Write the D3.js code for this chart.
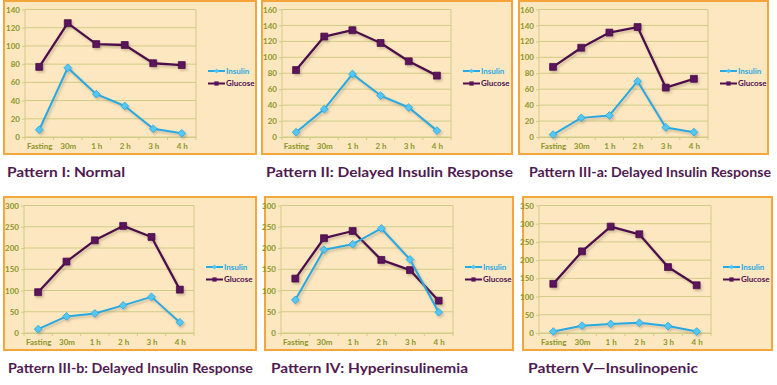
<!DOCTYPE html>
<html>
<head>
<meta charset="utf-8">
<script src="https://cdn.jsdelivr.net/npm/d3@7"></script>
<style>
  body { margin: 0; background: #fff; }
  svg { display: block; }
</style>
</head>
<body>
<div id="chart"></div>
<script>
const categories = ['Fasting', '30m', '1 h', '2 h', '3 h', '4 h'];
const seriesNames = ['Insulin', 'Glucose'];

const titles = [
  'Pattern I: Normal',
  'Pattern II: Delayed Insulin Response',
  'Pattern III-a: Delayed Insulin Response',
  'Pattern III-b: Delayed Insulin Response',
  'Pattern IV: Hyperinsulinemia',
  'Pattern V\u2014Insulinopenic'
];

const yMax = [140, 160, 160, 300, 300, 350];
const yStep = [20, 20, 20, 50, 50, 50];

const insulin = [
  [8, 76, 47, 34, 9, 4],
  [6, 35, 79, 52, 37, 8],
  [3, 24, 27, 70, 12, 6],
  [9, 39, 46, 65, 85, 25],
  [78, 196, 209, 246, 173, 49],
  [4, 20, 25, 28, 19, 4]
];

const glucose = [
  [77, 125, 102, 101, 81, 79],
  [84, 126, 134, 118, 95, 77],
  [88, 112, 131, 138, 62, 73],
  [96, 168, 218, 252, 226, 102],
  [128, 223, 240, 172, 148, 76],
  [135, 224, 292, 271, 181, 131]
];

// frame and plot placement of each panel
const layout = [
  { fx: 4,   fy: 1,   fw: 252, fh: 153, px0: 25,  px1: 196, tx: 7,   ty: 177, tl: 118 },
  { fx: 262, fy: 1,   fw: 250, fh: 153, px0: 282, px1: 451, tx: 266, ty: 177, tl: 247 },
  { fx: 519, fy: 1,   fw: 249, fh: 153, px0: 539, px1: 708, tx: 529, ty: 177, tl: 242 },
  { fx: 4,   fy: 197, fw: 252, fh: 153, px0: 24,  px1: 194, tx: 8,   ty: 373, tl: 245 },
  { fx: 265, fy: 197, fw: 248, fh: 153, px0: 281, px1: 453, tx: 271, ty: 373, tl: 197 },
  { fx: 523, fy: 197, fw: 249, fh: 153, px0: 539, px1: 711, tx: 528, ty: 373, tl: 170 }
];

const colors = { Insulin: '#27a9e1', Glucose: '#4e0e4e' };
const markFill = { Insulin: '#57c6f2', Glucose: '#5a125a' };
const gridColor = '#cfcc85';
const tickColor = '#8a9628';

const svg = d3.select('#chart').append('svg')
  .attr('width', 777)
  .attr('height', 385);

const defs = svg.append('defs');
const shadow = defs.append('filter').attr('id', 'shadow')
  .attr('x', '-20%').attr('y', '-20%').attr('width', '140%').attr('height', '140%');
shadow.append('feDropShadow')
  .attr('dx', 1.5).attr('dy', 2)
  .attr('stdDeviation', 1.2)
  .attr('flood-color', '#7a6a50')
  .attr('flood-opacity', 0.35);

titles.forEach((title, i) => {
  const L = layout[i];
  const g = svg.append('g');

  g.append('rect')
    .attr('x', L.fx).attr('y', L.fy)
    .attr('width', L.fw).attr('height', L.fh)
    .attr('fill', '#fde7c0')
    .attr('stroke', '#f4a63c')
    .attr('stroke-width', 2);

  const top = L.fy + 8.5;
  const bottom = L.fy + 136;

  const x = d3.scalePoint()
    .domain(categories)
    .range([L.px0, L.px1])
    .padding(0.5);

  const y = d3.scaleLinear()
    .domain([0, yMax[i]])
    .range([bottom, top]);

  const ticks = d3.range(0, yMax[i] + 1, yStep[i]);

  // gridlines
  g.append('g')
    .selectAll('line')
    .data(ticks)
    .enter().append('line')
    .attr('x1', L.px0).attr('x2', L.px1)
    .attr('y1', d => y(d)).attr('y2', d => y(d))
    .attr('stroke', gridColor)
    .attr('stroke-width', 1);

  // plot edges
  g.append('line')
    .attr('x1', L.px0).attr('x2', L.px0)
    .attr('y1', top).attr('y2', bottom)
    .attr('stroke', gridColor);
  g.append('line')
    .attr('x1', L.px1).attr('x2', L.px1)
    .attr('y1', top).attr('y2', bottom)
    .attr('stroke', gridColor);

  // y axis
  const yAxis = g.append('g')
    .attr('transform', `translate(${L.px0},0)`)
    .call(d3.axisLeft(y).tickValues(ticks).tickSize(3).tickPadding(2));
  yAxis.select('.domain').remove();
  yAxis.selectAll('line').attr('stroke', gridColor);
  yAxis.selectAll('text')
    .attr('fill', tickColor)
    .style('font-family', 'Lato, sans-serif')
    .style('font-weight', 'bold')
    .style('font-size', '8px');

  // x axis
  const step = x.step();
  const xAxis = g.append('g')
    .attr('transform', `translate(0,${bottom})`)
    .call(d3.axisBottom(x).tickSize(0).tickPadding(6));
  xAxis.select('.domain').attr('stroke', gridColor);
  xAxis.selectAll('text')
    .attr('fill', tickColor)
    .style('font-family', 'Lato, sans-serif')
    .style('font-weight', 'bold')
    .style('font-size', '8px');
  xAxis.selectAll('.sep')
    .data(d3.range(categories.length + 1))
    .enter().append('line')
    .attr('class', 'sep')
    .attr('x1', k => L.px0 + k * step).attr('x2', k => L.px0 + k * step)
    .attr('y1', 0).attr('y2', 3)
    .attr('stroke', gridColor);

  // series
  const data = { Insulin: insulin[i], Glucose: glucose[i] };
  const line = d3.line()
    .x((d, k) => x(categories[k]))
    .y(d => y(d));

  const drawOrder = i === 4 ? ['Glucose', 'Insulin'] : ['Insulin', 'Glucose'];
  drawOrder.forEach(name => {
    const s = g.append('g').attr('filter', 'url(#shadow)');
    s.append('path')
      .datum(data[name])
      .attr('d', line)
      .attr('fill', 'none')
      .attr('stroke', colors[name])
      .attr('stroke-width', name === 'Glucose' ? 2.3 : 2)
      .attr('stroke-linejoin', 'round');

    // diamonds are squares turned by 45 degrees
    const rot = name === 'Insulin' ? 45 : 0;
    const size = name === 'Insulin' ? 30 : 48;
    s.selectAll('.mark')
      .data(data[name])
      .enter().append('path')
      .attr('class', 'mark')
      .attr('transform', (d, k) => `translate(${x(categories[k])},${y(d)}) rotate(${rot})`)
      .attr('d', d3.symbol().type(d3.symbolSquare).size(size))
      .attr('fill', markFill[name])
      .attr('stroke', colors[name])
      .attr('stroke-width', 0.8);
  });

  // legend
  const lx = L.px1 + 12;
  const ly = L.fy + 70;
  seriesNames.forEach((name, k) => {
    const yy = ly + k * 12.5;
    g.append('line')
      .attr('x1', lx).attr('x2', lx + 17)
      .attr('y1', yy).attr('y2', yy)
      .attr('stroke', colors[name])
      .attr('stroke-width', 2);
    g.append('path')
      .attr('transform', `translate(${lx + 8.5},${yy}) rotate(${name === 'Insulin' ? 45 : 0})`)
      .attr('d', d3.symbol().type(d3.symbolSquare).size(name === 'Insulin' ? 12 : 18))
      .attr('fill', markFill[name]);
    g.append('text')
      .attr('x', lx + 18)
      .attr('y', yy)
      .attr('dy', '0.35em')
      .attr('fill', colors[name])
      .style('font-family', 'Lato, sans-serif')
      .style('font-weight', 'bold')
      .style('font-size', '8px')
      .text(name);
  });

  // title
  g.append('text')
    .attr('x', L.tx)
    .attr('y', L.ty)
    .attr('textLength', L.tl)
    .attr('lengthAdjust', 'spacingAndGlyphs')
    .attr('fill', '#4f1b50')
    .style('font-family', 'Lato, sans-serif')
    .style('font-weight', 'bold')
    .style('font-size', '14px')
    .text(title);
});
</script>
</body>
</html>
